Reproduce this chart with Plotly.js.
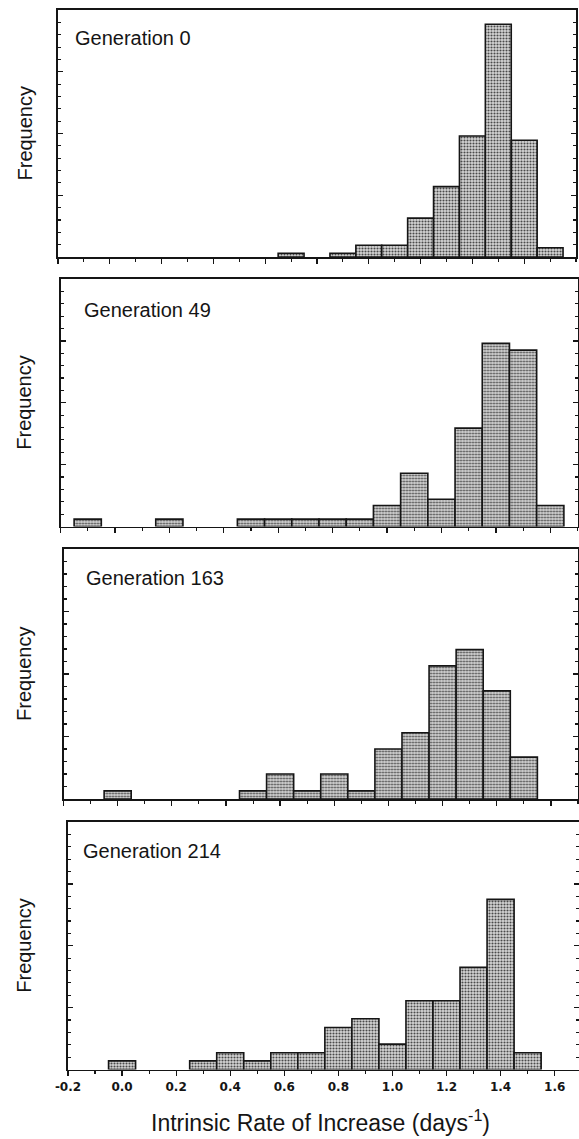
<!DOCTYPE html>
<html>
<head>
<meta charset="utf-8">
<script src="https://cdn.plot.ly/plotly-3.0.1.min.js"></script>
<style>
  html, body { margin: 0; padding: 0; background: #ffffff; }
  #chart { width: 579px; height: 1139px; }
</style>
</head>
<body>
<div id="chart"></div>
<script>
// ---- data (bin centres in days^-1, relative frequency) ----
const panelTitles = ["Generation 0", "Generation 49", "Generation 163", "Generation 214"];

const gen0Centers = [0.7, 0.9, 1.0, 1.1, 1.2, 1.3, 1.4, 1.5, 1.6, 1.7];
const gen0Freq    = [0.006, 0.006, 0.019, 0.019, 0.063, 0.114, 0.196, 0.377, 0.189, 0.015];

const gen49Centers = [-0.1, 0.2, 0.5, 0.6, 0.7, 0.8, 0.9, 1.0, 1.1, 1.2, 1.3, 1.4, 1.5, 1.6];
const gen49Freq    = [0.012, 0.012, 0.012, 0.012, 0.012, 0.012, 0.012, 0.034, 0.086, 0.044, 0.159, 0.296, 0.285, 0.034];

const gen163Centers = [0.0, 0.5, 0.6, 0.7, 0.8, 0.9, 1.0, 1.1, 1.2, 1.3, 1.4, 1.5];
const gen163Freq    = [0.013, 0.013, 0.040, 0.013, 0.040, 0.013, 0.080, 0.106, 0.213, 0.239, 0.173, 0.067];

const gen214Centers = [0.0, 0.3, 0.4, 0.5, 0.6, 0.7, 0.8, 0.9, 1.0, 1.1, 1.2, 1.3, 1.4, 1.5];
const gen214Freq    = [0.014, 0.014, 0.027, 0.014, 0.027, 0.027, 0.068, 0.082, 0.041, 0.111, 0.111, 0.165, 0.275, 0.027];

const xTickVals  = [-0.2, 0.0, 0.2, 0.4, 0.6, 0.8, 1.0, 1.2, 1.4, 1.6];
const xTickText  = ["-0.2", "0.0", "0.2", "0.4", "0.6", "0.8", "1.0", "1.2", "1.4", "1.6"];
const yAxisLabel = "Frequency";
const xAxisLabel = "Intrinsic Rate of Increase (days<sup>-1</sup>)";

// ---- layout geometry (pixels) ----
const W = 579, H = 1139;
const px = v => v / W;
const py = v => 1 - v / H;

const series = [
  {x: gen0Centers,   y: gen0Freq},
  {x: gen49Centers,  y: gen49Freq},
  {x: gen163Centers, y: gen163Freq},
  {x: gen214Centers, y: gen214Freq}
];

const boxes = [
  {l: 58,   r: 576,  t: 10,  b: 257,   xr: [-0.2, 1.8],  tx: 73, ty: 38},
  {l: 60.5, r: 577.5,t: 279, b: 526.5, xr: [-0.2, 1.7],  tx: 82, ty: 310},
  {l: 63.5, r: 578,  t: 549, b: 799,   xr: [-0.2, 1.7],  tx: 84, ty: 578},
  {l: 68,   r: 579,  t: 822, b: 1069.5,xr: [-0.2, 1.69], tx: 81, ty: 851}
];

const ink = '#151515';
const textFont = "Liberation Sans, Arial, Helvetica, sans-serif";

const data = [];
const layout = {
  width: W, height: H, autosize: false,
  margin: {l: 0, r: 0, t: 0, b: 0, pad: 0},
  paper_bgcolor: '#ffffff', plot_bgcolor: '#ffffff',
  showlegend: false,
  bargap: 0,
  annotations: []
};

series.forEach((s, i) => {
  const n = i + 1;
  const bx = boxes[i];
  data.push({
    type: 'bar',
    x: s.x, y: s.y, width: 0.1,
    xaxis: 'x' + n, yaxis: 'y' + n,
    hoverinfo: 'skip',
    marker: {
      color: '#a8a8a8',
      pattern: {shape: '.', fgcolor: '#4a4a4a', bgcolor: '#d6d6d6', size: 3, solidity: 0.38},
      line: {color: ink, width: 1.6}
    }
  });
  const last = (i === 3);
  layout['xaxis' + n] = {
    domain: [px(bx.l), px(bx.r)],
    anchor: 'y' + n,
    range: bx.xr,
    showgrid: false, zeroline: false,
    showline: true, linecolor: ink, linewidth: 1.6, mirror: true,
    ticks: 'outside', ticklen: 5, tickwidth: 1.3, tickcolor: ink,
    tickmode: 'array', tickvals: xTickVals, ticktext: xTickText,
    showticklabels: last,
    tickfont: {family: 'DejaVu Sans', size: 12, color: ink, weight: 'bold'},
    minor: {tickmode: 'linear', tick0: -0.2, dtick: 0.1, ticks: 'outside', ticklen: 3, tickwidth: 1.1, tickcolor: ink, showgrid: false},
    fixedrange: true
  };
  layout['yaxis' + n] = {
    domain: [py(bx.b), py(bx.t)],
    anchor: 'x' + n,
    range: [0, 0.4],
    showgrid: false, zeroline: false,
    showline: true, linecolor: ink, linewidth: 1.6, mirror: 'ticks',
    ticks: 'inside', ticklen: 5, tickwidth: 1.3, tickcolor: ink,
    tickmode: 'linear', tick0: 0, dtick: 0.1,
    showticklabels: false,
    minor: {tickmode: 'linear', tick0: 0, dtick: 0.02, ticks: 'inside', ticklen: 3, tickwidth: 1.1, tickcolor: ink, showgrid: false},
    fixedrange: true
  };
  layout.annotations.push({
    xref: 'paper', yref: 'paper',
    x: px(bx.tx), y: py(bx.ty),
    xanchor: 'left', yanchor: 'middle',
    text: panelTitles[i], showarrow: false,
    font: {family: textFont, size: 20, color: ink}
  });
  layout.annotations.push({
    xref: 'paper', yref: 'paper',
    x: px(24), y: py((bx.t + bx.b) / 2),
    xanchor: 'center', yanchor: 'middle',
    textangle: -90,
    text: yAxisLabel, showarrow: false,
    font: {family: textFont, size: 20, color: ink}
  });
});

layout.annotations.push({
  xref: 'paper', yref: 'paper',
  x: px(320), y: py(1121),
  xanchor: 'center', yanchor: 'middle',
  text: xAxisLabel, showarrow: false,
  font: {family: textFont, size: 23, color: ink}
});

Plotly.newPlot('chart', data, layout, {displayModeBar: false, staticPlot: true});
</script>
</body>
</html>
